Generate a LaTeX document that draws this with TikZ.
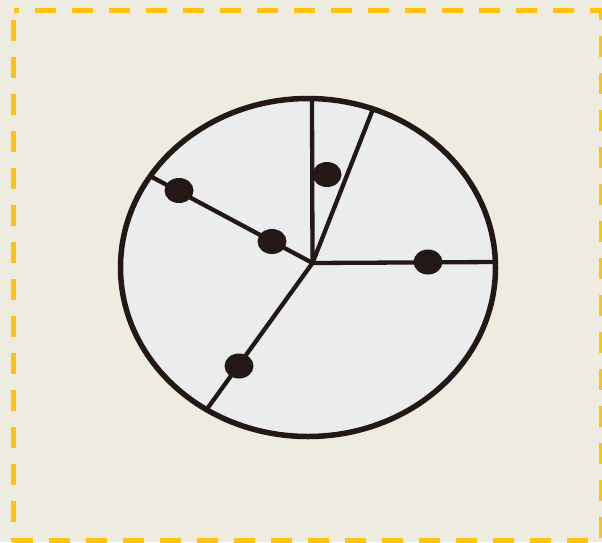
\documentclass[tikz,border=0pt]{standalone}
\usetikzlibrary{calc,shapes.geometric}

\definecolor{paper}{HTML}{EEEBE0}
\definecolor{frameyellow}{HTML}{FFC20E}
\definecolor{diskgrey}{HTML}{EBECEE}
\definecolor{ink}{HTML}{231815}

\tikzset{
    spoke/.style={draw=ink, line width=4.3pt},
    seed/.style={ellipse, fill=ink, inner sep=0pt, minimum width=29pt, minimum height=25pt},
}

\begin{document}
\begin{tikzpicture}[x=1pt, y=-1pt, line cap=butt, line join=round]

%-----------------------
% 1) BACKGROUND AND FRAME
%-----------------------
\useasboundingbox (0,0) rectangle (602,542);
\fill[paper] (0,0) rectangle (602,542);
\begin{scope}
  \clip (0,0) rectangle (602,542);
  \draw[frameyellow, line width=5pt, dash pattern=on 21pt off 16pt, dash phase=-10pt]
    (13.5,10) rectangle (601,540);
\end{scope}

%-----------------------
% 2) DISK
%-----------------------
\draw[fill=diskgrey, draw=ink, line width=5.5pt] (308,267.5) ellipse (187.5 and 169);

%-----------------------
% 3) SPOKES
%-----------------------
\coordinate (hub) at (312.5,263);
\coordinate (rimTop)   at (312,99);
\coordinate (rimSlant) at (373,109);
\coordinate (rimLeft)  at (150,176);
\coordinate (rimRight) at (495,262);
\coordinate (rimLow)   at (207,409);

\foreach \rim in {rimTop,rimSlant,rimLeft,rimRight,rimLow}
  \draw[spoke] (hub) -- (\rim);

%-----------------------
% 4) DOTS
%-----------------------
\node[seed] (dotA) at (179,190.5) {};
\node[seed] (dotB) at (272,241.5) {};
\node[seed] (dotC) at (327,174.5) {};
\node[seed] (dotD) at (428,262) {};
\node[seed] (dotE) at (239,366) {};

\end{tikzpicture}
\end{document}
